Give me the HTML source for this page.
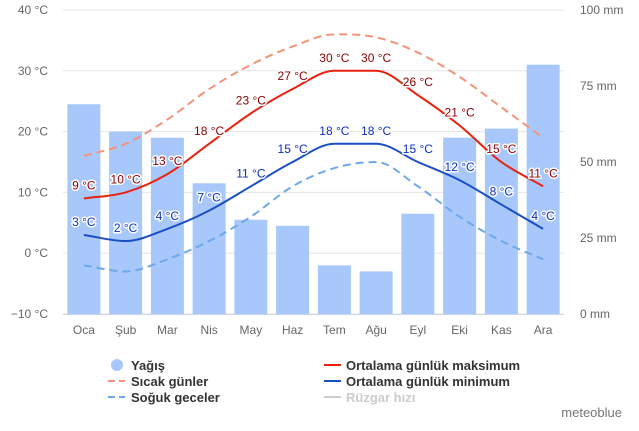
<!DOCTYPE html>
<html><head><meta charset="utf-8"><style>
body{margin:0;background:#fff;font-family:"Liberation Sans",sans-serif}
svg text{font-family:"Liberation Sans",sans-serif}
</style></head><body>
<svg id="c" width="639" height="426">
<g id="grid"></g><g id="bars"></g><g id="lines"></g><g id="labels"></g><g id="axes"></g>
<g font-size="13" font-weight="bold" fill="#333">
<g><circle cx="117" cy="365" r="6" fill="#a8c8fc"/><text x="131" y="370">Yağış</text></g>
<g><line x1="108" y1="381" x2="125" y2="381" stroke="#f4937a" stroke-width="2" stroke-dasharray="7,4"/><text x="131" y="386">Sıcak günler</text></g>
<g><line x1="108" y1="397" x2="125" y2="397" stroke="#6fa8e8" stroke-width="2" stroke-dasharray="7,4"/><text x="131" y="402">Soğuk geceler</text></g>
<g><line x1="324" y1="365" x2="341" y2="365" stroke="#e8220e" stroke-width="2"/><text x="346" y="370">Ortalama günlük maksimum</text></g>
<g><line x1="324" y1="381" x2="341" y2="381" stroke="#1a4fc4" stroke-width="2"/><text x="346" y="386">Ortalama günlük minimum</text></g>
<g><line x1="324" y1="397" x2="341" y2="397" stroke="#ccc" stroke-width="2"/><text x="346" y="402" fill="#ccc">Rüzgar hızı</text></g>
</g>
<text x="622" y="417" text-anchor="end" font-size="13" fill="#777">meteoblue</text>
</svg>
<script>
const months=["Oca","Şub","Mar","Nis","May","Haz","Tem","Ağu","Eyl","Eki","Kas","Ara"];
const precip=[69,60,58,43,31,29,16,14,33,58,61,82];
const tMax=[9,10,13,18,23,27,30,30,26,21,15,11];
const tMin=[3,2,4,7,11,15,18,18,15,12,8,4];
const hotDays=[16,18,22,27,31,34,36,35.5,33,29,24,19];
const coldNights=[-2,-3,-1,2,6,11,14,15,11,6,2,-1];
const tTicks=[-10,0,10,20,30,40];
const pTicks=[0,25,50,75,100];
const NS="http://www.w3.org/2000/svg";
const L=63,R=564,T=10,B=314;
const x=i=>L+(i+0.5)*(R-L)/12;
const yT=v=>B-(v+10)/50*(B-T);
const yP=v=>B-v/100*(B-T);
function mk(p,tag,a){const e=document.createElementNS(NS,tag);for(const k in a)e.setAttribute(k,a[k]);document.getElementById(p).appendChild(e);return e;}
tTicks.forEach(v=>{
 const g=mk("grid","line",{x1:L,x2:R,y1:yT(v),y2:yT(v),stroke:"#e6e6e6"});
 
 
 const t=mk("axes","text",{x:48,y:yT(v)+4,"text-anchor":"end","font-size":"12",fill:"#666"});
 
 
 t.textContent=(v<0?"−"+(-v):v)+" °C";
});
pTicks.forEach(v=>{
 const t=mk("axes","text",{x:580,y:yP(v)+4,"font-size":"12",fill:"#666"});
 
 
 t.textContent=v+" mm";
});
const ax=mk("axes","line",{x1:L,x2:R,y1:B+0.5,y2:B+0.5,stroke:"#ccd6eb"});


months.forEach((m,i)=>{
 const t=mk("axes","text",{x:x(i),y:334,"text-anchor":"middle","font-size":"12",fill:"#666"});
 
 
 t.textContent=m;
 const b=mk("bars","rect",{x:x(i)-16.5,y:yP(precip[i]),width:33,height:B-yP(precip[i]),fill:"#a8c8fc"});
 
 
});
function path(arr){
 const p=arr.map((v,i)=>[x(i),yT(v)]);const n=p.length,h=p[1][0]-p[0][0];
 const d=[];for(let i=0;i<n-1;i++)d.push((p[i+1][1]-p[i][1])/h);
 const m=[d[0]];for(let i=1;i<n-1;i++)m.push(d[i-1]*d[i]<=0?0:(d[i-1]+d[i])/2);m.push(d[n-2]);
 for(let i=0;i<n-1;i++){if(d[i]===0){m[i]=0;m[i+1]=0;continue;}const a=m[i]/d[i],b=m[i+1]/d[i],s=a*a+b*b;if(s>9){const t=3/Math.sqrt(s);m[i]=t*a*d[i];m[i+1]=t*b*d[i];}}
 let s="M"+p[0][0]+","+p[0][1];
 for(let i=0;i<n-1;i++)s+=" C"+(p[i][0]+h/3)+","+(p[i][1]+m[i]*h/3)+" "+(p[i+1][0]-h/3)+","+(p[i+1][1]-m[i+1]*h/3)+" "+p[i+1][0]+","+p[i+1][1];
 return s;}
function line(arr,col,dash,name){
 const e=mk("lines","path",{d:path(arr),fill:"none",stroke:col,"stroke-width":2,"stroke-dasharray":dash});
 
 
}
line(hotDays,"#f4937a","8,5","hot-days-line");
line(coldNights,"#6fa8e8","8,5","cold-nights-line");
line(tMax,"#e8220e","none","max-temp-line");
line(tMin,"#1a4fc4","none","min-temp-line");
function labels(arr,col,name){
 arr.forEach((v,i)=>{
  const t=mk("labels","text",{x:x(i),y:yT(v)-9,"text-anchor":"middle","font-size":"12",fill:col,stroke:"#fff","stroke-width":3,"paint-order":"stroke","stroke-linejoin":"round"});
  
  
  t.textContent=v+" °C";
 });
}
labels(tMax,"#8b0000","max-temp-label");
labels(tMin,"#0b2fc0","min-temp-label");
</script>
</body></html>
